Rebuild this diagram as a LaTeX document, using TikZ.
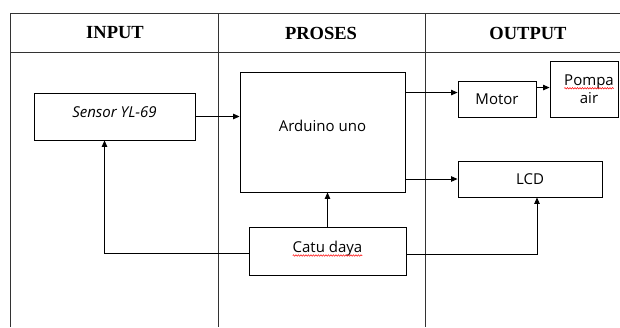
\documentclass[tikz,border=0pt]{standalone}
\usepackage{fontspec}
\setmainfont{Liberation Serif}
\newfontfamily\boxfont{Open Sans}
\usetikzlibrary{arrows.meta,decorations.pathmorphing}

\newcommand\blokfont{\boxfont\fontsize{15}{18}\selectfont}
\newlength\catuw
\newlength\pompaw

\begin{document}
\settowidth\catuw{\blokfont Catu daya}
\settowidth\pompaw{\blokfont Pompa}
\begin{tikzpicture}[x=1pt, y=-1pt,
            grid/.style = {draw=black!80, line width=0.9pt},
            head/.style = {font=\fontsize{18.5}{20}\selectfont\bfseries},
            blok/.style = {draw, line width=0.9pt, align=center, inner sep=0pt,
                    font=\blokfont},
            lift/.style = {text height=11pt, text depth=#1},
            arr/.style = {line width=0.9pt, -{Triangle[length=6.5pt,width=5.5pt]}},
            wave/.style = {draw=red, line width=0.5pt, decorate,
                    decoration={snake, amplitude=0.7pt, segment length=2.5pt}}]
    \useasboundingbox (0,0) rectangle (620,327);
    % table
    \draw[grid] (10,327) -- (10,13) -- (620,13);
    \draw[grid] (10,52) -- (620,52);
    \draw[grid] (218,13) -- (218,327);
    \draw[grid] (425,13) -- (425,327);
    \node[head] (hin) at (115,33) {INPUT};
    \node[head] (hpro) at (321,33) {PROSES};
    \node[head] (hout) at (528,33) {OUTPUT};
    % blocks
    \node[blok, lift=10pt, minimum width=161, minimum height=47] (sensor) at (114.5,116.5) {\itshape Sensor YL-69};
    \node[blok, lift=12pt, minimum width=165, minimum height=120] (arduino) at (322.5,132) {Arduino uno};
    \node[blok, lift=8pt, minimum width=157, minimum height=48] (catu) at (327.5,251) {Catu daya};
    \node[blok, minimum width=78, minimum height=36] (motor) at (497,99) {Motor};
    \node[blok, minimum width=68, minimum height=56] (pompa) at (584,89) {\hspace{10pt}Pompa\\\hspace{10pt}air};
    \node[blok, minimum width=144, minimum height=36] (lcd) at (530,179) {LCD};
    % spell-check marks
    \path[wave] ([yshift=-3pt]catu.text) -- ++(\catuw,0);
    \path[wave] ([xshift=10pt,yshift=15pt]pompa.text) -- ++(\pompaw,0);
    % connections
    \draw[arr] (sensor.east) -- (sensor.east -| arduino.west);
    \coordinate (am) at ([yshift=-21pt]arduino.north east);
    \draw[arr] (am) -- (am -| motor.west);
    \coordinate (mp) at ([yshift=-7pt]motor.north east);
    \draw[arr] (mp) -- (mp -| pompa.west);
    \draw[arr] (lcd.west -| arduino.east) -- (lcd.west);
    \draw[arr] (catu.north) -- (catu.north |- arduino.south);
    \coordinate (cs) at ([xshift=-10pt]sensor.south);
    \draw[arr] ([yshift=-2pt]catu.west) -| (cs);
    \coordinate (cl) at ([xshift=7pt]lcd.south);
    \draw[arr] ([yshift=-3pt]catu.east) -| (cl);
\end{tikzpicture}
\end{document}
